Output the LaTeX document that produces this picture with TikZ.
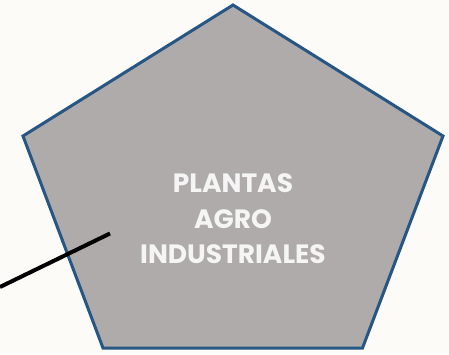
\documentclass[tikz,border=0pt]{standalone}
\usepackage{fontspec}
\setmainfont{Poppins}
\definecolor{bgcol}{RGB}{253,251,248}
\definecolor{pentfill}{RGB}{175,171,170}
\definecolor{pentline}{RGB}{38,86,132}
\definecolor{txtcol}{RGB}{245,245,245}
\tikzset{
  pent/.style={fill=pentfill,draw=pentline,line width=3pt,line join=miter},
  label/.style={text=txtcol,font=\bfseries\fontsize{26.5}{35.5}\selectfont,align=center,inner sep=0pt},
  connector/.style={draw=black,line width=4pt}
}
\begin{document}
\begin{tikzpicture}[x=1pt,y=1pt]
\fill[bgcol] (0,0) rectangle (449,354);
\useasboundingbox (0,0) rectangle (449,354);
\coordinate (t) at (233,349);
\coordinate (r) at (443,218);
\coordinate (br) at (362.5,6);
\coordinate (bl) at (103,6);
\coordinate (l) at (23,218);
\path[pent] (t) -- (r) -- (br) -- (bl) -- (l) -- cycle;
\node[label] (txt) at (233,135) {PLANTAS\\AGRO\\INDUSTRIALES};
\coordinate (a) at (0,67);
\coordinate (b) at (110,120.5);
\draw[connector] (a) -- (b);
\end{tikzpicture}
\end{document}
